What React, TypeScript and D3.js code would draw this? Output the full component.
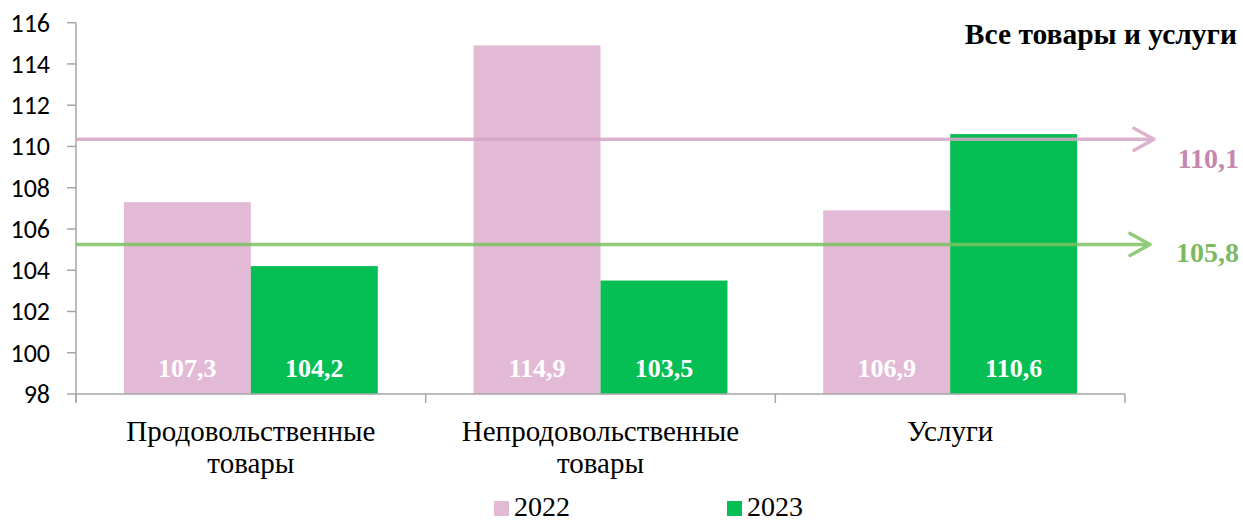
import React, { useEffect, useRef } from 'react';
import * as d3 from 'd3';

// Chart data
const categories = [['Продовольственные', 'товары'], ['Непродовольственные', 'товары'], ['Услуги']];
const years = ['2022', '2023'];
const values2022 = [107.3, 114.9, 106.9];
const values2023 = [104.2, 103.5, 110.6];
const yTicks = [98, 100, 102, 104, 106, 108, 110, 112, 114, 116];
const totalLabels = ['110,1', '105,8'];
// where the total arrows sit on the value axis
const totalLinePos = [110.35, 105.25];
const title = 'Все товары и услуги';

const W = 1243;
const H = 522;
const colors = ['#e3bad5', '#05bf55'];
const lineColors = ['#d7a6c6', '#7cc263'];
const labelColors = ['#c587ae', '#7cba62'];
const serif = '"Liberation Serif", "Times New Roman", serif';

export default function App() {
  const ref = useRef<SVGSVGElement>(null);

  useEffect(() => {
    const svg = d3.select(ref.current);
    svg.selectAll('*').remove();

    const left = 76;
    const right = 1125;
    const top = 22.7;
    const bottom = 394;

    const y = d3.scaleLinear().domain([98, 116]).range([bottom, top]);
    const x0 = d3.scaleBand<number>().domain(d3.range(categories.length)).range([left, right]);
    const x1 = d3
      .scaleBand<string>()
      .domain(years)
      .range([0, x0.bandwidth()])
      .paddingInner(0)
      .paddingOuter(0.377);

    const axisColor = '#a6a6a6';

    // y axis
    const yAxis = svg.append('g').attr('transform', `translate(${left},0)`);
    yAxis
      .append('line')
      .attr('y1', top)
      .attr('y2', bottom + 8)
      .attr('stroke', axisColor)
      .attr('stroke-width', 1.5);
    yAxis
      .selectAll('line.tick')
      .data(yTicks)
      .join('line')
      .attr('class', 'tick')
      .attr('x1', -9)
      .attr('x2', 0)
      .attr('y1', d => y(d))
      .attr('y2', d => y(d))
      .attr('stroke', axisColor)
      .attr('stroke-width', 1.5);
    yAxis
      .selectAll('text')
      .data(yTicks)
      .join('text')
      .attr('x', -26)
      .attr('y', d => y(d))
      .attr('dy', '0.34em')
      .attr('text-anchor', 'end')
      .attr('font-family', 'Carlito, Lato, sans-serif')
      .attr('font-size', 26)
      .attr('fill', '#000')
      .text(d => d);

    // bars
    const groups = svg
      .selectAll('g.cat')
      .data(categories)
      .join('g')
      .attr('class', 'cat')
      .attr('transform', (_, i) => `translate(${x0(i)},0)`);

    const barData = (i: number) => [
      { year: years[0], v: values2022[i], c: colors[0] },
      { year: years[1], v: values2023[i], c: colors[1] }
    ];

    groups
      .selectAll('rect')
      .data((_, i) => barData(i))
      .join('rect')
      .attr('x', d => x1(d.year)!)
      .attr('width', x1.bandwidth())
      .attr('y', d => y(d.v))
      .attr('height', d => bottom - y(d.v))
      .attr('fill', d => d.c);

    groups
      .selectAll('text.val')
      .data((_, i) => barData(i))
      .join('text')
      .attr('class', 'val')
      .attr('x', d => x1(d.year)! + x1.bandwidth() / 2)
      .attr('y', bottom - 17)
      .attr('text-anchor', 'middle')
      .attr('font-family', serif)
      .attr('font-weight', 'bold')
      .attr('font-size', 26)
      .attr('fill', '#fff')
      .text(d => d.v.toFixed(1).replace('.', ','));

    // x axis
    svg
      .append('line')
      .attr('x1', left)
      .attr('x2', right)
      .attr('y1', bottom)
      .attr('y2', bottom)
      .attr('stroke', axisColor)
      .attr('stroke-width', 1.5);
    svg
      .selectAll('line.xtick')
      .data(d3.range(categories.length + 1))
      .join('line')
      .attr('class', 'xtick')
      .attr('x1', d => left + d * x0.step())
      .attr('x2', d => left + d * x0.step())
      .attr('y1', bottom)
      .attr('y2', bottom + 9)
      .attr('stroke', axisColor)
      .attr('stroke-width', 1.5);

    svg
      .selectAll('text.cat')
      .data(categories)
      .join('text')
      .attr('class', 'cat')
      .attr('x', (_, i) => x0(i)! + x0.bandwidth() / 2)
      .attr('y', 441)
      .attr('text-anchor', 'middle')
      .attr('font-family', serif)
      .attr('font-size', 29)
      .attr('fill', '#000')
      .selectAll('tspan')
      .data(d => d)
      .join('tspan')
      .attr('x', function () {
        return (this.parentNode as SVGTextElement).getAttribute('x');
      })
      .attr('dy', (_, j) => (j === 0 ? 0 : 32))
      .text(d => d);

    // total arrows
    const arrowEnd = [1154, 1150];
    const labelOffset = [29, 18];
    totalLinePos.forEach((v, i) => {
      const yy = y(v);
      const g = svg.append('g').attr('opacity', 0.85);
      g.append('line')
        .attr('x1', left)
        .attr('x2', arrowEnd[i] - 2)
        .attr('y1', yy)
        .attr('y2', yy)
        .attr('stroke', lineColors[i])
        .attr('stroke-width', 3.5);
      g.append('path')
        .attr('d', `M${arrowEnd[i] - 20},${yy - 11} L${arrowEnd[i]},${yy} L${arrowEnd[i] - 20},${yy + 11}`)
        .attr('fill', 'none')
        .attr('stroke', lineColors[i])
        .attr('stroke-width', 3.5)
        .attr('stroke-linecap', 'round')
        .attr('stroke-linejoin', 'round');
      svg
        .append('text')
        .attr('x', 1239)
        .attr('y', yy + labelOffset[i])
        .attr('text-anchor', 'end')
        .attr('font-family', serif)
        .attr('font-weight', 'bold')
        .attr('font-size', 28)
        .attr('fill', labelColors[i])
        .text(totalLabels[i]);
    });

    // title
    svg
      .append('text')
      .attr('x', 1237)
      .attr('y', 44)
      .attr('text-anchor', 'end')
      .attr('font-family', serif)
      .attr('font-weight', 'bold')
      .attr('font-size', 29.5)
      .attr('fill', '#000')
      .text(title);

    // legend
    const legendX = [494, 727];
    const lg = svg
      .selectAll('g.legend')
      .data(years)
      .join('g')
      .attr('class', 'legend')
      .attr('transform', (_, i) => `translate(${legendX[i]},501)`);
    lg.append('rect').attr('width', 15).attr('height', 15).attr('fill', (_, i) => colors[i]);
    lg.append('text')
      .attr('x', 20)
      .attr('y', 15)
      .attr('font-family', serif)
      .attr('font-size', 28)
      .attr('fill', '#000')
      .text(d => d);
  }, []);

  return (
    <svg
      ref={ref}
      width={W}
      height={H}
      style={{ position: 'absolute', left: 0, top: 0, background: '#fff' }}
    />
  );
}
